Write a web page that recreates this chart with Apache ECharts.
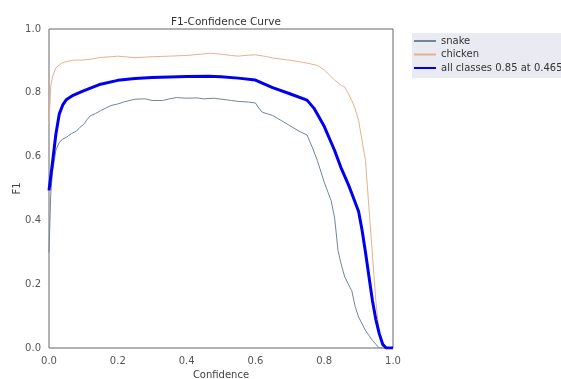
<!DOCTYPE html>
<html>
<head>
<meta charset="utf-8">
<script src="https://cdn.jsdelivr.net/npm/echarts@6/dist/echarts.min.js"></script>
<style>html,body{margin:0;padding:0;background:#fff;}#c{width:561px;height:379px;}</style>
</head>
<body>
<div id="c"></div>
<script>
const xTicks = [0, 0.2, 0.4, 0.6, 0.8, 1.0];
const snake = [[0,0.30],[0.005,0.48],[0.01,0.55],[0.02,0.62],[0.03,0.645],[0.04,0.655],[0.05,0.66],[0.065,0.672],[0.08,0.68],[0.09,0.692],[0.1,0.70],[0.11,0.715],[0.12,0.728],[0.135,0.735],[0.15,0.744],[0.165,0.752],[0.18,0.76],[0.2,0.765],[0.22,0.772],[0.25,0.78],[0.28,0.781],[0.3,0.776],[0.33,0.776],[0.35,0.781],[0.37,0.785],[0.4,0.783],[0.43,0.784],[0.45,0.781],[0.48,0.783],[0.5,0.78],[0.53,0.776],[0.55,0.773],[0.58,0.771],[0.6,0.768],[0.61,0.752],[0.62,0.739],[0.65,0.729],[0.68,0.71],[0.7,0.697],[0.73,0.678],[0.75,0.668],[0.765,0.63],[0.78,0.588],[0.8,0.52],[0.82,0.462],[0.83,0.41],[0.835,0.36],[0.84,0.306],[0.85,0.26],[0.86,0.222],[0.875,0.19],[0.88,0.18],[0.89,0.13],[0.9,0.097],[0.92,0.055],[0.94,0.024],[0.96,0.0],[1.0,0.0]];
const chicken = [[0,0.70],[0.005,0.82],[0.01,0.85],[0.02,0.878],[0.035,0.892],[0.05,0.898],[0.07,0.902],[0.1,0.903],[0.12,0.905],[0.15,0.911],[0.18,0.913],[0.2,0.915],[0.22,0.913],[0.25,0.91],[0.28,0.912],[0.3,0.913],[0.35,0.915],[0.4,0.917],[0.44,0.921],[0.47,0.924],[0.5,0.921],[0.53,0.917],[0.55,0.915],[0.58,0.918],[0.6,0.919],[0.63,0.914],[0.65,0.909],[0.7,0.902],[0.73,0.897],[0.75,0.893],[0.78,0.886],[0.8,0.872],[0.815,0.856],[0.83,0.84],[0.85,0.823],[0.86,0.818],[0.87,0.798],[0.88,0.776],[0.89,0.75],[0.9,0.713],[0.91,0.65],[0.92,0.588],[0.93,0.44],[0.94,0.295],[0.95,0.149],[0.96,0.045],[0.97,0.0],[1.0,0.0]];
const allClasses = [[0,0.494],[0.01,0.58],[0.02,0.67],[0.03,0.734],[0.04,0.762],[0.05,0.778],[0.07,0.792],[0.1,0.806],[0.15,0.827],[0.2,0.839],[0.25,0.845],[0.3,0.848],[0.4,0.851],[0.465,0.852],[0.5,0.85],[0.55,0.846],[0.6,0.84],[0.625,0.828],[0.65,0.816],[0.7,0.797],[0.75,0.777],[0.77,0.752],[0.8,0.695],[0.83,0.62],[0.85,0.562],[0.87,0.513],[0.88,0.485],[0.9,0.428],[0.91,0.37],[0.92,0.3],[0.93,0.225],[0.94,0.15],[0.95,0.09],[0.96,0.045],[0.97,0.012],[0.98,0.0],[1.0,0.0]];
const seriesNames = ['snake', 'chicken', 'all classes 0.85 at 0.465'];

const chart = echarts.init(document.getElementById('c'));
const axisText = {color:'#555', fontSize:10, fontFamily:'DejaVu Sans'};
chart.setOption({
  animation:false,
  backgroundColor:'#fff',
  title:{text:'F1-Confidence Curve', left:221, top:12, textAlign:'center',
    textStyle:{fontSize:10.5, fontWeight:'normal', color:'#333', fontFamily:'DejaVu Sans'}},
  grid:{left:49, right:168, top:29, bottom:31, outerBoundsMode:'none', containLabel:false,
    show:true, borderColor:'#666', borderWidth:1, backgroundColor:'#fff'},
  legend:{orient:'vertical', left:412, top:33, backgroundColor:'#eaeaf2', borderWidth:0,
    padding:[3,60,5,1], itemWidth:22, itemHeight:10, itemGap:3.5,
    itemStyle:{opacity:0},
    textStyle:{fontSize:10, color:'#333', fontFamily:'DejaVu Sans'},
    data:seriesNames},
  xAxis:{type:'value', min:0, max:1, interval:0.2, name:'Confidence', nameLocation:'middle', nameGap:22,
    nameMoveOverlap:false,
    nameTextStyle:{color:'#444', fontSize:10, fontFamily:'DejaVu Sans'},
    axisLine:{show:false}, axisTick:{show:false}, splitLine:{show:false},
    axisLabel:Object.assign({margin:8, formatter:v=>v.toFixed(1)}, axisText)},
  yAxis:{type:'value', min:0, max:1, interval:0.2, name:'F1', nameLocation:'middle', nameGap:27,
    nameMoveOverlap:false,
    nameTextStyle:{color:'#444', fontSize:10, fontFamily:'DejaVu Sans'},
    axisLine:{show:false}, axisTick:{show:false}, splitLine:{show:false},
    axisLabel:Object.assign({margin:8, formatter:v=>v.toFixed(1)}, axisText)},
  series:[
    {name:seriesNames[0], type:'line', data:snake, showSymbol:false, symbol:'none', lineStyle:{color:'#6f8796', width:1}, itemStyle:{color:'#6f8796'}},
    {name:seriesNames[1], type:'line', data:chicken, showSymbol:false, symbol:'none', lineStyle:{color:'#e8b08c', width:1}, itemStyle:{color:'#e8b08c'}},
    {name:seriesNames[2], type:'line', data:allClasses, showSymbol:false, symbol:'none', lineStyle:{color:'#0000ee', width:3}, itemStyle:{color:'#0000ee'}}
  ]
});
</script>
</body>
</html>
